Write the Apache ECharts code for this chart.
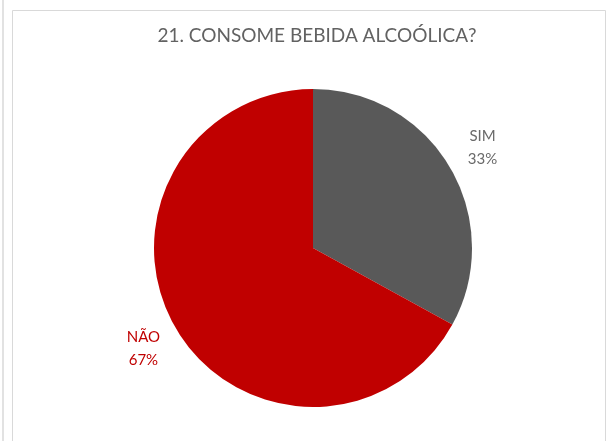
<!DOCTYPE html>
<html>
<head>
<meta charset="utf-8">
<script src="https://cdn.jsdelivr.net/npm/echarts@6/dist/echarts.min.js"></script>
<style>
html,body{margin:0;padding:0;background:#fff;}
#chart{width:611px;height:441px;}
</style>
</head>
<body>
<div id="chart"></div>
<script>
const titleText = '21. CONSOME BEBIDA ALCOÓLICA?';
const categories = ['SIM', 'NÃO'];
const values = [33, 67];
const sliceColors = ['#595959', '#C00000'];
const labelColors = ['#6a6a6a', '#C00000'];

const chart = echarts.init(document.getElementById('chart'), null, {renderer: 'canvas'});

const pieData = categories.map((c, i) => ({
  name: c, value: values[i],
  itemStyle: {color: sliceColors[i]}
}));
const labelData = categories.map((c, i) => ({
  name: c, value: values[i],
  label: {color: labelColors[i]}
}));

chart.setOption({
  animation: false,
  backgroundColor: '#ffffff',
  title: {
    text: titleText,
    left: 312, top: 21, textAlign: 'center',
    textStyle: {fontFamily: 'Lato', fontSize: 19, fontWeight: 'normal', color: '#626262'}
  },
  graphic: [
    {type: 'rect', shape: {x: 2, y: -5, width: 2, height: 460}, style: {fill: '#e2e2e2'}, silent: true},
    {type: 'rect', shape: {x: 12.5, y: 10.5, width: 593, height: 450}, style: {fill: 'none', stroke: '#d9d9d9', lineWidth: 1}, silent: true}
  ],
  series: [
    {
      type: 'pie',
      center: [313, 248],
      radius: [0, 159],
      startAngle: 90,
      clockwise: true,
      silent: true,
      label: {show: false},
      labelLine: {show: false},
      itemStyle: {borderWidth: 0},
      data: pieData
    },
    {
      type: 'pie',
      center: [313, 248],
      radius: [182, 206],
      startAngle: 90,
      clockwise: true,
      silent: true,
      itemStyle: {color: 'rgba(0,0,0,0)', borderWidth: 0},
      label: {
        show: true, position: 'inside',
        formatter: p => p.name + '\n' + Math.round(p.percent) + '%',
        fontFamily: 'Lato', fontSize: 15, lineHeight: 23, align: 'center'
      },
      labelLine: {show: false},
      data: labelData
    }
  ]
});
</script>
</body>
</html>
